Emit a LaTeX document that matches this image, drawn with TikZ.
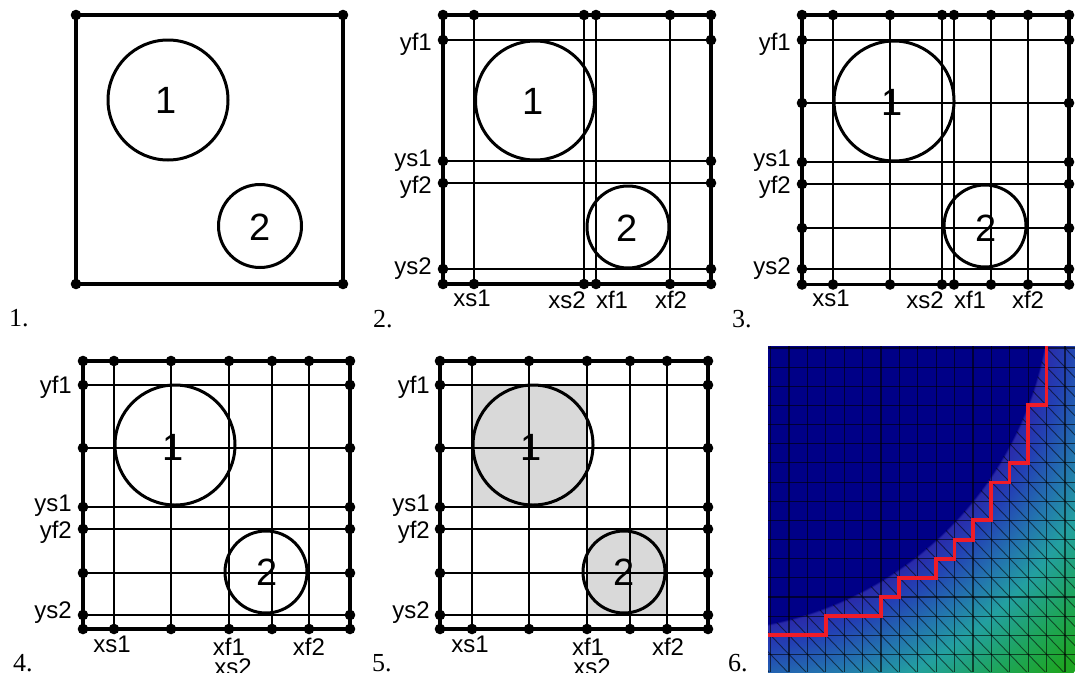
\documentclass[tikz,border=0pt]{standalone}
\usepackage{fontspec}
\setmainfont{Liberation Sans}
\newfontfamily\numfont{Liberation Serif}
\definecolor{fdark}{RGB}{0,0,135}
\definecolor{fa}{RGB}{42,42,170}
\definecolor{fb}{RGB}{35,65,180}
\definecolor{fc}{RGB}{35,115,175}
\definecolor{fd}{RGB}{35,160,160}
\definecolor{fe}{RGB}{30,165,90}
\definecolor{ff}{RGB}{30,165,35}
\definecolor{redline}{RGB}{240,28,40}
\definecolor{patch}{RGB}{217,217,217}
% 25bp of the shading maps to the radius of the shaded circle
\pgfdeclareradialshading{field}{\pgfpointorigin}{%
 color(0bp)=(fdark); color(16.15bp)=(fdark); color(16.25bp)=(fa); color(17.3bp)=(fb);
 color(18.9bp)=(fc); color(20.5bp)=(fd); color(22.6bp)=(fe); color(24.45bp)=(ff); color(50bp)=(ff)}
\tikzset{
 framepen/.style={line width=3.4pt,line cap=round},
 gridpen/.style={line width=1.6pt},
 blob/.style={line width=3pt},
 big/.style={font=\fontsize{38}{38}\selectfont,inner sep=0pt},
 lab/.style={font=\fontsize{24}{24}\selectfont,inner sep=0pt},
 ylab/.style={lab,anchor=base east},
 xlab/.style={lab,anchor=base},
 num/.style={font=\numfont\fontsize{26}{26}\selectfont,inner sep=0pt,anchor=base west},
 meshline/.style={black,opacity=.6,line width=1.1pt},
 meshdiag/.style={black,opacity=.55,line width=.9pt},
 redpath/.style={redline,line width=3.4pt,line join=miter}
}
% #1 left #2 right #3 top #4 bottom #5 x lines #6 y lines
\newcommand{\gridpanel}[6]{%
 \foreach \vx in {#5}{\draw[gridpen] (\vx,#3) -- (\vx,#4);}
 \foreach \hy in {#6}{\draw[gridpen] (#1,\hy) -- (#2,\hy);}
}
\newcommand{\framepanel}[6]{%
 \draw[framepen] (#1,#3) rectangle (#2,#4);
 \foreach \vx in {#1,#5,#2}{\fill (\vx,#3) circle[radius=5.3]; \fill (\vx,#4) circle[radius=5.3];}
 \foreach \hy in {#6}{\fill (#1,\hy) circle[radius=5.3]; \fill (#2,\hy) circle[radius=5.3];}
}
\begin{document}
\begin{tikzpicture}[x=1pt,y=-1pt]
\useasboundingbox (0,0) rectangle (1075,672);
% panel 1
\draw[blob] (168,100) circle[radius=60];
\draw[blob] (260,226) circle[radius=41.5];
\draw[framepen] (76,15) rectangle (343,284);
\foreach \vx in {76,343}{\fill (\vx,15) circle[radius=5.3]; \fill (\vx,284) circle[radius=5.3];}
\node[big] (a1) at (166,100) {1};
\node[big] (a2) at (260,227) {2};
\node[num] (n1) at (9,326) {1.};
% panel 2
\gridpanel{443}{711}{15}{284}{474,584,596,670}{40,161,183,269}
\draw[blob] (535,100.5) circle[radius=59.5];
\draw[blob] (628,227) circle[radius=41];
\framepanel{443}{711}{15}{284}{474,584,596,670}{40,161,183,269}
\node[big] (b1) at (533,101) {1};
\node[big] (b2) at (627,228) {2};
\node[ylab] (b3) at (432,50) {yf1};
\node[ylab] (b4) at (432,166) {ys1};
\node[ylab] (b5) at (432,193) {yf2};
\node[ylab] (b6) at (432,274) {ys2};
\node[xlab] (b7) at (472,306) {xs1};
\node[xlab] (b8) at (567,308) {xs2};
\node[xlab] (b9) at (612,308) {xf1};
\node[xlab] (b10) at (671,308) {xf2};
\node[num] (n2) at (373,327) {2.};
% panel 3
\gridpanel{802}{1069}{15}{284.5}{833,890,942,954,991,1028}{40,103,162,184,228,269}
\draw[blob] (894,101) circle[radius=60];
\draw[blob] (985,226) circle[radius=41];
\framepanel{802}{1069}{15}{284.5}{833,890,942,954,991,1028}{40,103,162,184,228,269}
\node[big] (c1) at (892,102) {1};
\node[big] (c2) at (986,228) {2};
\node[ylab] (c3) at (791,50) {yf1};
\node[ylab] (c4) at (791,166) {ys1};
\node[ylab] (c5) at (791,193) {yf2};
\node[ylab] (c6) at (791,274) {ys2};
\node[xlab] (c7) at (831,306) {xs1};
\node[xlab] (c8) at (925,308) {xs2};
\node[xlab] (c9) at (970,308) {xf1};
\node[xlab] (c10) at (1028,308) {xf2};
\node[num] (n3) at (732,327) {3.};
% panel 4
\gridpanel{83}{350}{361}{629}{114,171,229,272,309}{385,448,507,529,573,615}
\draw[blob] (175,445) circle[radius=60];
\draw[blob] (266,572) circle[radius=41];
\framepanel{83}{350}{361}{629}{114,171,229,272,309}{385,448,507,529,573,615}
\node[big] (d1) at (173,447) {1};
\node[big] (d2) at (267,572) {2};
\node[ylab] (d3) at (72,393) {yf1};
\node[ylab] (d4) at (72,511) {ys1};
\node[ylab] (d5) at (72,538) {yf2};
\node[ylab] (d6) at (72,618) {ys2};
\node[xlab] (d7) at (112,652) {xs1};
\node[xlab] (d8) at (229,655) {xf1};
\node[xlab] (d9) at (233,675) {xs2};
\node[xlab] (d10) at (309,655) {xf2};
\node[num] (n4) at (13,671) {4.};
% panel 5
\fill[patch] (472,385) rectangle (587,507);
\fill[patch] (587,529) rectangle (667,615);
\gridpanel{440}{708}{361}{629}{472,529,587,630,667}{385,448,507,529,573,615}
\draw[blob] (533,445) circle[radius=60];
\draw[blob] (624,572) circle[radius=41];
\framepanel{440}{708}{361}{629}{472,529,587,630,667}{385,448,507,529,573,615}
\node[big] (e1) at (531,447) {1};
\node[big] (e2) at (624,572) {2};
\node[ylab] (e3) at (430,393) {yf1};
\node[ylab] (e4) at (430,511) {ys1};
\node[ylab] (e5) at (430,538) {yf2};
\node[ylab] (e6) at (430,618) {ys2};
\node[xlab] (e7) at (470,652) {xs1};
\node[xlab] (e8) at (588,655) {xf1};
\node[xlab] (e9) at (592,675) {xs2};
\node[xlab] (e10) at (668,655) {xf2};
\node[num] (n5) at (372,671) {5.};
% panel 6
\begin{scope}
 \clip (768,346) rectangle (1075,672);
 \path[shading=field] (700,280) circle[radius=542];
 \foreach \k in {0,...,16}{\draw[meshline] ({770.6+18.4*\k},346) -- ({770.6+18.4*\k},672);}
 \foreach \j in {0,...,17}{\draw[meshline] (768,{348+19.15*\j}) -- (1075,{348+19.15*\j});}
 \begin{scope}[even odd rule]
  \clip (768,346) rectangle (1075,672) (700,280) circle[radius=351];
  \foreach \k in {-18,...,16}{\draw[meshdiag] ({770.6+18.4*\k},348) -- ({770.6+18.4*(\k+18)},{348+19.15*18});}
 \end{scope}
 \draw[redpath] (768,635) -| (826,616) -| (881,597) -| (899,578) -| (936,559) -| (954.5,540) -| (973,520) -| (991,482.5) -| (1009.5,463) -| (1028,405) -| (1046.5,346);
\end{scope}
\node[num] (n6) at (728,671) {6.};
\end{tikzpicture}
\end{document}
